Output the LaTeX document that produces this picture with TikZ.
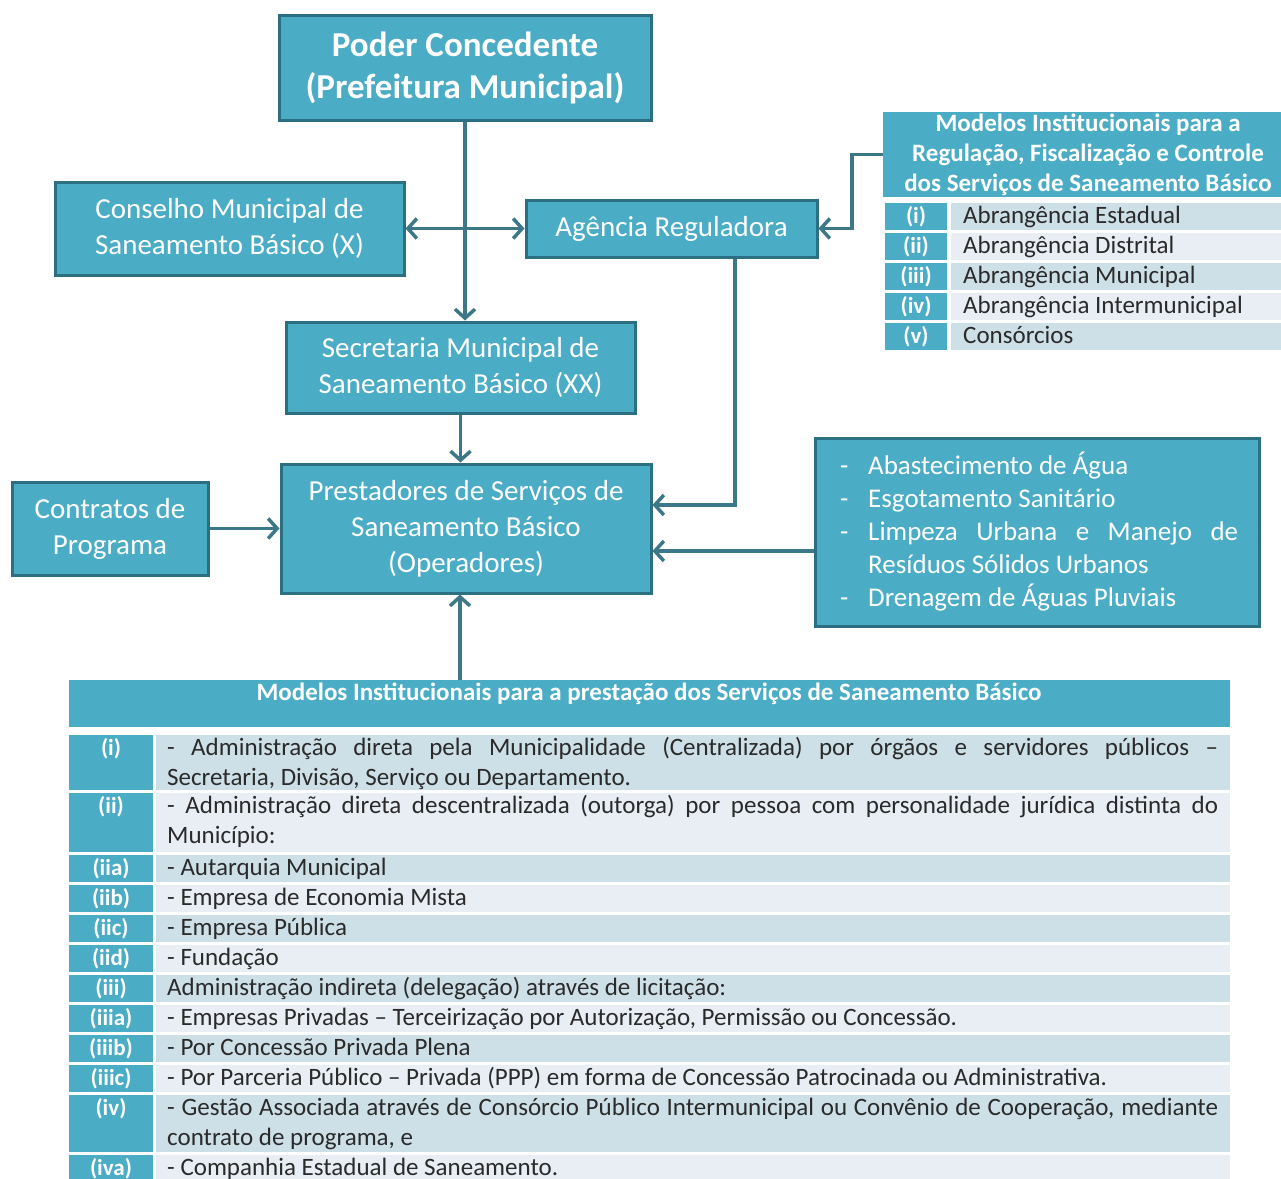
\documentclass[tikz,border=0pt]{standalone}
\usepackage{fontspec}
\setmainfont{Carlito}
\usepackage{tikz}
\usetikzlibrary{arrows.meta}
\definecolor{boxfill}{HTML}{4BACC6}
\definecolor{boxline}{HTML}{2C6E82}
\definecolor{linkcol}{HTML}{3D7888}
\definecolor{rowdark}{HTML}{CEE0E7}
\definecolor{rowlight}{HTML}{E8EEF4}
\definecolor{tabtext}{HTML}{2A2A2A}

\tikzset{
  box/.style={draw=boxline, line width=3pt, fill=boxfill, text=white, align=center,
    inner sep=0pt, font=\fontsize{29}{36}\selectfont},
  head/.style={fill=boxfill, text=white, align=center, inner sep=0pt},
  link/.style={draw=linkcol, line width=3.5pt, -{Straight Barb[length=9pt,width=20pt]}},
  dlink/.style={draw=linkcol, line width=3.5pt, {Straight Barb[length=9pt,width=20pt]}-{Straight Barb[length=9pt,width=20pt]}},
  lab/.style={text=white, font=\bfseries\fontsize{23}{30}\selectfont, inner sep=0pt, anchor=base},
  rowtext/.style={text=tabtext, font=\fontsize{25}{30}\selectfont, inner sep=0pt, anchor=base west},
  longtext/.style={rowtext, text width=1051pt, align=justify},
  servtext/.style={text=white, font=\fontsize{27}{33}\selectfont, text width=398pt, align=justify,
    inner sep=0pt, anchor=base west},
}

% one row of the lower table: name, label, top, bottom, colour, text
\newcommand{\tabrow}[6]{%
  \fill[#5] (156,#3) rectangle (1230,#4);
  \fill[boxfill] (69,#3) rectangle (153,#4);
  \node[lab] (#1lab) at (111,#3+20) {#2};
  \node[longtext] (#1) at (167,#3+20) {#6};
}

\begin{document}
\begin{tikzpicture}[x=1pt, y=-1pt]
  \useasboundingbox (0,0) rectangle (1281,1178);
  \clip (0,0) rectangle (1281,1178);

  % Organization boxes
  \node[box, font=\bfseries\fontsize{35}{42}\selectfont, minimum width=372pt, minimum height=105pt]
    (poder) at (465,67.5) {Poder Concedente\\(Prefeitura Municipal)};
  \node[box, minimum width=349pt, minimum height=93pt] (conselho) at (229.5,228.5)
    {Conselho Municipal de\\Saneamento Básico (X)};
  \node[box, minimum width=291pt, minimum height=57pt] (agencia) at (671.5,228.5) {Agência Reguladora};
  \node[box, minimum width=349pt, minimum height=91pt] (secretaria) at (460.5,367.5)
    {Secretaria Municipal de\\Saneamento Básico (XX)};
  \node[box, minimum width=370pt, minimum height=129pt] (prest) at (466,528.5)
    {Prestadores de Serviços de\\Saneamento Básico\\(Operadores)};
  \node[box, minimum width=196pt, minimum height=93pt] (contratos) at (110,528.5) {Contratos de\\Programa};
  \node[box, minimum width=444pt, minimum height=188pt] (servicos) at (1037,532) {};
  \node[servtext] (servlist) at (840,474) {%
    \makebox[28pt][l]{-}Abastecimento de Água\\
    \makebox[28pt][l]{-}Esgotamento Sanitário\\
    \makebox[28pt][l]{-}Limpeza Urbana e Manejo de\linebreak
    \hspace*{28pt}Resíduos Sólidos Urbanos\\
    \makebox[28pt][l]{-}Drenagem de Águas Pluviais};

  % Regulation table
  \node[head, minimum width=410pt, minimum height=85pt, font=\bfseries\fontsize{25}{30}\selectfont]
    (regtit) at (1088,154.5)
    {Modelos Institucionais para a\\Regulação, Fiscalização e Controle\\dos Serviços de Saneamento Básico};
  \foreach \lab/\txt/\yt/\col [count=\i] in {i/Abrangência Estadual/203/rowdark,
      ii/Abrangência Distrital/233/rowlight, iii/Abrangência Municipal/263/rowdark,
      iv/Abrangência Intermunicipal/293/rowlight, v/Consórcios/323/rowdark}{
    \fill[\col] (951,\yt) rectangle (1281,\yt+27);
    \fill[boxfill] (885,\yt) rectangle (947,\yt+27);
    \node[lab] (reglab\i) at (916,\yt+20) {(\lab)};
    \node[rowtext] (reg\i) at (963,\yt+20) {\txt};
  }

  % Service provision table
  \node[head, minimum width=1161pt, minimum height=47pt] (prestit) at (649.5,703.5) {};
  \node[text=white, font=\bfseries\fontsize{25}{30}\selectfont, inner sep=0pt] (prestitle) at (649,694)
    {Modelos Institucionais para a prestação dos Serviços de Saneamento Básico};
  \tabrow{ri}{(i)}{735}{790}{rowdark}{- Administração direta pela Municipalidade (Centralizada) por órgãos e servidores públicos –\linebreak Secretaria, Divisão, Serviço ou Departamento.}
  \tabrow{rii}{(ii)}{793}{852}{rowlight}{- Administração direta descentralizada (outorga) por pessoa com personalidade jurídica distinta do\linebreak Município:}
  \tabrow{riia}{(iia)}{855}{882}{rowdark}{- Autarquia Municipal}
  \tabrow{riib}{(iib)}{885}{912}{rowlight}{- Empresa de Economia Mista}
  \tabrow{riic}{(iic)}{915}{942}{rowdark}{- Empresa Pública}
  \tabrow{riid}{(iid)}{945}{972}{rowlight}{- Fundação}
  \tabrow{riii}{(iii)}{975}{1002}{rowdark}{Administração indireta (delegação) através de licitação:}
  \tabrow{riiia}{(iiia)}{1005}{1032}{rowlight}{- Empresas Privadas – Terceirização por Autorização, Permissão ou Concessão.}
  \tabrow{riiib}{(iiib)}{1035}{1062}{rowdark}{- Por Concessão Privada Plena}
  \tabrow{riiic}{(iiic)}{1065}{1092}{rowlight}{- Por Parceria Público – Privada (PPP) em forma de Concessão Patrocinada ou Administrativa.}
  \tabrow{riv}{(iv)}{1095}{1152}{rowdark}{- Gestão Associada através de Consórcio Público Intermunicipal ou Convênio de Cooperação, mediante\linebreak contrato de programa, e}
  \tabrow{riva}{(iva)}{1155}{1182}{rowlight}{- Companhia Estadual de Saneamento.}

  % Connectors
  \draw[link] (poder.south) -- (poder.south |- secretaria.north);
  \draw[dlink] (conselho.east) -- (agencia.west);
  \draw[link] (secretaria.south) -- (secretaria.south |- prest.north);
  \draw[link] (contratos.east) -- (prest.west);
  \draw[link] ([xshift=63.5pt]agencia.south) |- ([yshift=23.5pt]prest.east);
  \draw[link] ([yshift=-19pt]servicos.west) -- ([yshift=-19pt]servicos.west -| prest.east);
  \draw[link] ([xshift=-6pt]prestit.north -| prest.south) -- ([xshift=-6pt]prest.south);
  \draw[link] (regtit.west) -- ++(-31,0) |- (agencia.east);
\end{tikzpicture}
\end{document}
